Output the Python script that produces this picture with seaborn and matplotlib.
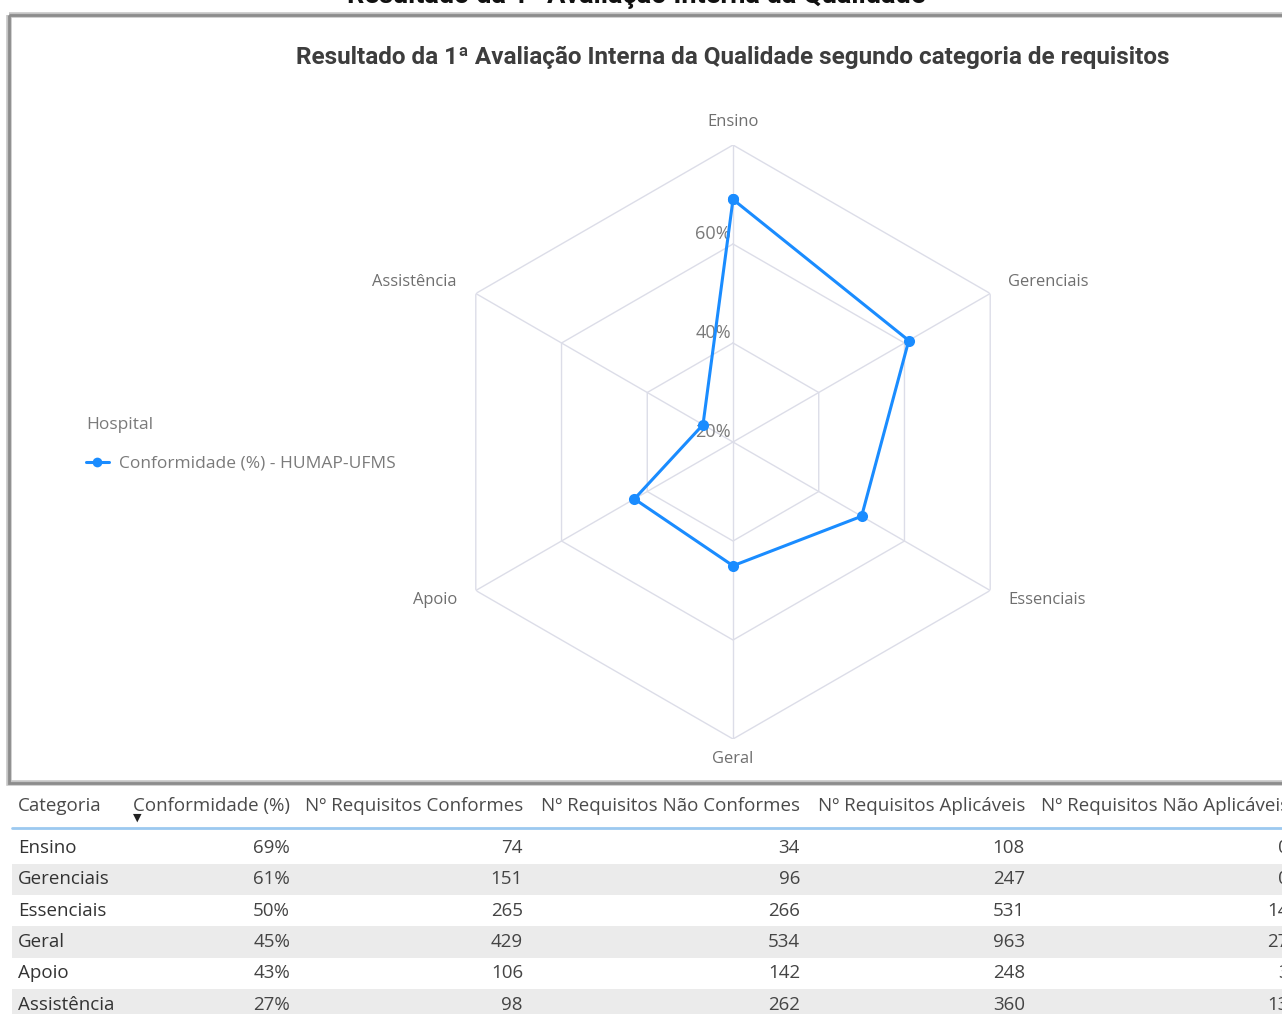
import numpy as np
import pandas as pd
import matplotlib
matplotlib.use("Agg")
import matplotlib.pyplot as plt
import seaborn as sns
from matplotlib.patches import Rectangle
from matplotlib.lines import Line2D

# ---------------- data ----------------
page_title = "Resultado da 1ª Avaliação Interna da Qualidade"
chart_title = "Resultado da 1ª Avaliação Interna da Qualidade segundo categoria de requisitos"
categorias = ["Ensino", "Gerenciais", "Essenciais", "Geral", "Apoio", "Assistência"]
conformidade = [69, 61, 50, 45, 43, 27]
req_conformes = [74, 151, 265, 429, 106, 98]
req_nao_conformes = [34, 96, 266, 534, 142, 262]
req_aplicaveis = [108, 247, 531, 963, 248, 360]
req_nao_aplicaveis = [0, 0, 14, 27, 3, 13]
radial_ticks = [20, 40, 60]
radial_rings = [40, 60, 80]
r_min, r_max = 20, 80
legend_title = "Hospital"
series_label = "Conformidade (%) - HUMAP-UFMS"
table_headers = ["Categoria", "Conformidade (%)", "Nº Requisitos Conformes",
                 "Nº Requisitos Não Conformes", "Nº Requisitos Aplicáveis",
                 "Nº Requisitos Não Aplicáveis"]

# ---------------- style ----------------
sns.set_theme(style="white")
plt.rcParams["font.family"] = ["Open Sans", "DejaVu Sans"]
BLUE = "#1a8cff"
GRID = "#dcdde8"
W, H = 1282, 1014

fig = plt.figure(figsize=(W / 100, H / 100), dpi=100)
fig.patch.set_facecolor("white")
renderer = fig.canvas.get_renderer()


def fit(text, target_px, **kw):
    t = fig.text(0, 0, text, fontsize=10, **kw)
    w = t.get_window_extent(renderer=renderer).width
    t.remove()
    return 10 * target_px / w


# background axes in pixel coordinates
bg = fig.add_axes([0, 0, 1, 1])
bg.set_xlim(0, W)
bg.set_ylim(H, 0)
bg.axis("off")

# page title (cut by the top edge, as in the reference screenshot)
fs = fit(page_title, 580, family="Roboto", fontweight="bold")
bg.text(636, 3, page_title, ha="center", va="baseline", fontsize=fs,
        fontweight="bold", family="Roboto", color="#111111")

# visual frame
bg.add_patch(Rectangle((9, 15), W + 50, 768, fill=False, edgecolor="#c4c4c4", lw=4.0))
bg.add_patch(Rectangle((9, 15), W + 50, 768, fill=False, edgecolor="#8c8c8c", lw=2.0))

# chart title
fs = fit(chart_title, 877, family="Roboto", fontweight="bold")
bg.text(733, 57, chart_title, ha="center", va="center", fontsize=fs,
        fontweight="bold", family="Roboto", color="#3d3d3d")

# ---------------- radar ----------------
n = len(categorias)
theta = np.linspace(0, 2 * np.pi, n, endpoint=False)
df = pd.DataFrame({"theta": np.append(theta, 2 * np.pi),
                   "valor": conformidade + conformidade[:1]})

R = 297
ax = fig.add_axes([(733 - R) / W, (H - 442 - R) / H, 2 * R / W, 2 * R / H],
                  projection="polar")
ax.set_theta_zero_location("N")
ax.set_theta_direction(-1)
ax.set_ylim(r_min, r_max)
ax.grid(False)
ax.spines["polar"].set_visible(False)
ax.set_xticks([])
ax.set_yticks([])
ax.patch.set_alpha(0)

ring_theta = np.append(theta, 2 * np.pi)
for r in radial_rings:
    ax.plot(ring_theta, [r] * len(ring_theta), color=GRID, lw=1.0, zorder=1)
for t in theta:
    ax.plot([t, t], [r_min, r_max], color=GRID, lw=1.0, zorder=1)

sns.lineplot(data=df, x="theta", y="valor", sort=False, estimator=None, ax=ax,
             color=BLUE, lw=2.2, marker="o", markersize=8, markeredgewidth=0,
             zorder=3, legend=False)
ax.set_xlabel("")
ax.set_ylabel("")

lab_fs = fit("Assistência", 85)
for t, name in zip(theta, categorias):
    s, c = np.sin(t), np.cos(t)
    if abs(s) < 1e-6:
        off = (0, 23 if c > 0 else -20)
        ha = "center"
    else:
        off = (18 if s > 0 else -19, 12 if c > 0 else -10)
        ha = "left" if s > 0 else "right"
    ax.annotate(name, xy=(t, r_max), xytext=off, textcoords="offset pixels",
                ha=ha, va="center", fontsize=lab_fs, color="#6f6f6f",
                annotation_clip=False)

tick_fs = fit("60%", 36)
for r in radial_ticks:
    ax.annotate(f"{r}%", xy=(0, r), xytext=(-2, 1), textcoords="offset pixels",
                ha="right", va="bottom", fontsize=tick_fs, color="#7a7a7a",
                zorder=2, annotation_clip=False)

# legend
leg_fs = fit(series_label, 275)
handle = Line2D([], [], color=BLUE, lw=2.2, marker="o", markersize=7, markeredgewidth=0)
leg = fig.legend([handle], [series_label], title=legend_title, loc="upper left",
                 bbox_to_anchor=(86 / W, 1 - 417 / H), frameon=False,
                 alignment="left", fontsize=leg_fs, title_fontsize=leg_fs,
                 labelcolor="#7a7a7a", handlelength=1.3, handletextpad=0.6,
                 borderpad=0, borderaxespad=0, labelspacing=1.3)
leg.get_title().set_color("#7a7a7a")

# ---------------- table ----------------
tab_fs = fit("Nº Requisitos Conformes", 218)
col_right = [None, 290, 523, 800, 1025, 1289]
header_y = 806
bg.text(18, header_y, table_headers[0], ha="left", va="center", fontsize=tab_fs, color="#4a4a4a")
for h, xr in zip(table_headers[1:], col_right[1:]):
    bg.text(xr, header_y, h, ha="right", va="center", fontsize=tab_fs, color="#4a4a4a")
bg.text(137, 818, "▼", ha="center", va="center", fontsize=8, color="#222222",
        family="DejaVu Sans")
bg.plot([12, W], [828, 828], color="#9cc9f0", lw=2.0)

row_h = 31.3
cols = [[f"{v}%" for v in conformidade], req_conformes, req_nao_conformes,
        req_aplicaveis, req_nao_aplicaveis]
for i, cat in enumerate(categorias):
    yc = 848 + row_h * i
    if i % 2 == 1:
        bg.add_patch(Rectangle((12, yc - row_h / 2), W, row_h, color="#ebebeb", lw=0, zorder=0))
    bg.text(18, yc, cat, ha="left", va="center", fontsize=tab_fs, color="#333333")
    for col, xr in zip(cols, col_right[1:]):
        bg.text(xr, yc, str(col[i]), ha="right", va="center", fontsize=tab_fs, color="#444444")

fig.savefig("out.png", dpi=100, facecolor="white")
